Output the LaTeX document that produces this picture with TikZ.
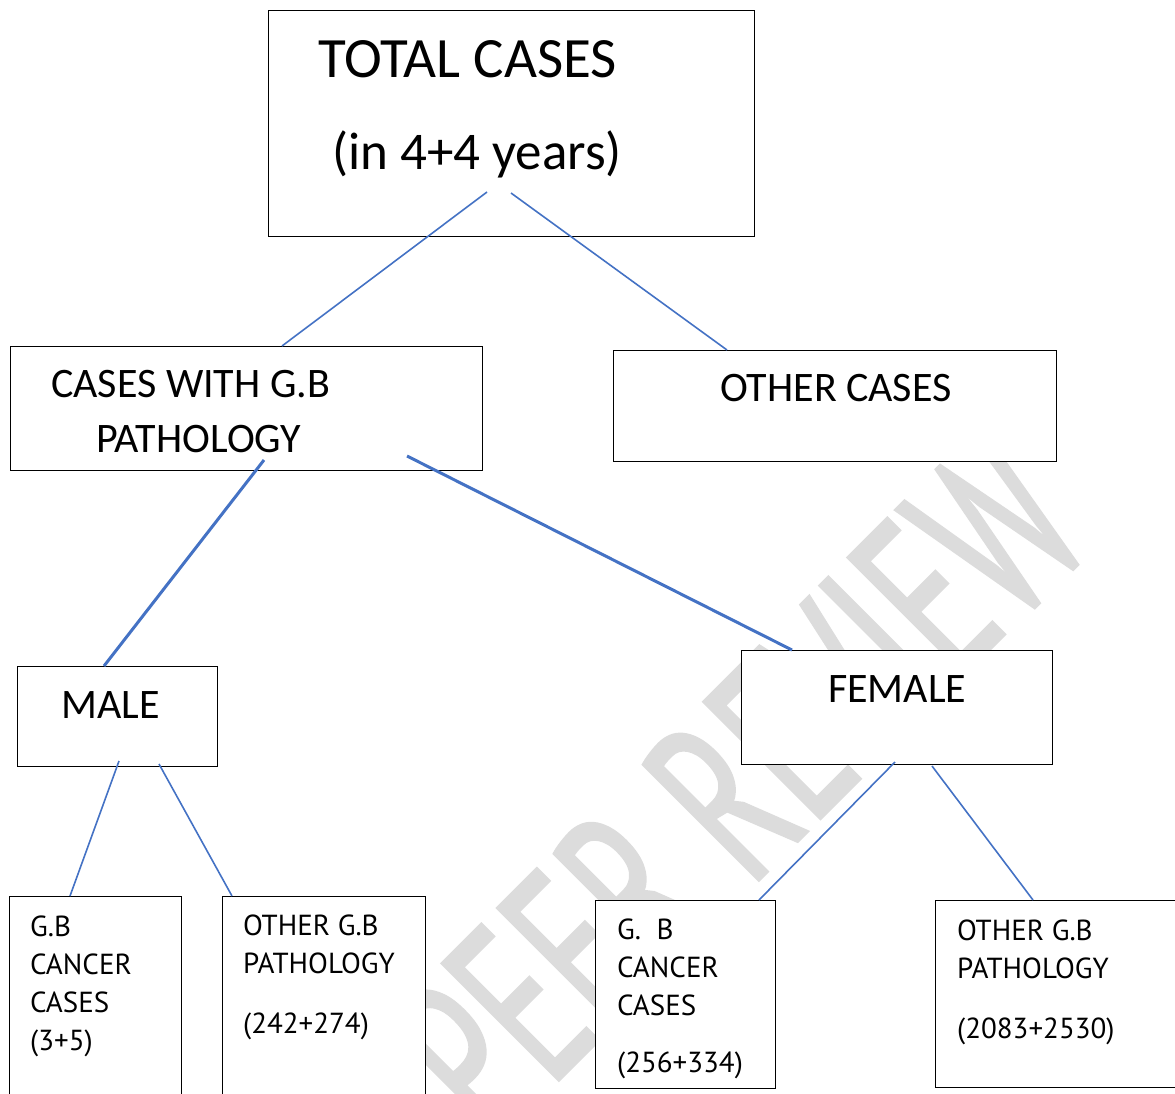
\documentclass[tikz,border=0pt]{standalone}
\usepackage{fontspec}
\setmainfont{Carlito}
\newfontfamily\dinfont{PT Sans}
\newfontfamily\markfont[FakeStretch=0.62,FakeBold=1.2]{PT Sans}
\usetikzlibrary{positioning,calc}
\definecolor{linkBlue}{HTML}{4472C4}
\definecolor{markGray}{HTML}{DCDCDC}
\tikzset{%
  caseBox/.style={%
    rectangle,
    draw=black,
    fill=white,
    line width=1pt,
    inner sep=0pt,
    anchor=north west
  },
  bigText/.style={%
    anchor=base west,
    inner sep=0pt,
    font=\fontsize{57}{60}\selectfont
  },
  midText/.style={%
    anchor=base west,
    inner sep=0pt,
    align=left,
    font=\fontsize{42}{55}\selectfont
  },
  smallText/.style={%
    anchor=base west,
    inner sep=0pt,
    align=left,
    font=\dinfont\fontsize{29}{38}\selectfont
  },
  linkLine/.style={%
    draw=linkBlue,
    line width=1.6pt
  },
  boldLink/.style={%
    draw=linkBlue,
    line width=3pt
  },
  markText/.style={%
    text=markGray,
    inner sep=0pt,
    anchor=base west,
    font=\markfont\fontsize{236}{236}\selectfont
  }
}

\begin{document}
\begin{tikzpicture}[x=1pt,y=-1pt]
  \useasboundingbox (0,0) rectangle (1175,1093);
  \clip (0,0) rectangle (1175,1093);

  % watermark
  \node[markText, rotate=45] (peerMark) at (492,1147) {PEER REVIEW};

  % boxes
  \node[caseBox, minimum width=486pt, minimum height=226pt] (total) at (268,10) {};
  \node[caseBox, minimum width=472pt, minimum height=124pt] (gbCases) at (10,346) {};
  \node[caseBox, minimum width=443pt, minimum height=111pt] (otherCases) at (613,350) {};
  \node[caseBox, minimum width=200pt, minimum height=100pt] (male) at (17,666) {};
  \node[caseBox, minimum width=311pt, minimum height=114pt] (female) at (741,650) {};
  \node[caseBox, minimum width=172pt, minimum height=220pt] (maleCancer) at (9,896) {};
  \node[caseBox, minimum width=203pt, minimum height=220pt] (maleOther) at (222,896) {};
  \node[caseBox, minimum width=180pt, minimum height=188pt] (femaleCancer) at (595,900) {};
  \node[caseBox, minimum width=260pt, minimum height=187pt] (femaleOther) at (935,900) {};

  % texts (anchored at the last baseline)
  \node[bigText] (totalTxt) at ($(total.north west)+(50,67)$) {TOTAL CASES};
  \node[bigText, font=\fontsize{53}{60}\selectfont] (yearsTxt) at ($(total.north west)+(64,159)$) {(in 4+4 years)};
  \node[midText] (gbTxt) at ($(gbCases.north west)+(41,106)$) {CASES WITH G.B\\\hspace*{45pt}PATHOLOGY};
  \node[midText] (otherTxt) at ($(otherCases.north west)+(107,51)$) {OTHER CASES};
  \node[midText] (maleTxt) at ($(male.north west)+(44,52)$) {MALE};
  \node[midText] (femaleTxt) at ($(female.north west)+(87,52)$) {FEMALE};
  \node[smallText] (mcTxt) at ($(maleCancer.north west)+(21,154)$) {G.B\\CANCER\\CASES\\(3+5)};
  \node[smallText] (moTxt) at ($(maleOther.north west)+(21,137)$) {OTHER G.B\\PATHOLOGY\\[22pt](242+274)};
  \node[smallText] (fcTxt) at ($(femaleCancer.north west)+(22,172)$) {G.~~B\\CANCER\\CASES\\[19pt](256+334)};
  \node[smallText] (foTxt) at ($(femaleOther.north west)+(22,138)$) {OTHER G.B\\PATHOLOGY\\[22pt](2083+2530)};

  % connector ends
  \coordinate (totalL) at ($(total.north west)+(219,182)$);
  \coordinate (totalR) at ($(total.north west)+(243,183)$);
  \coordinate (gbTop) at ($(gbCases.north west)+(272,0)$);
  \coordinate (otherTop) at ($(otherCases.north west)+(114,0)$);
  \coordinate (gbL) at ($(gbCases.north west)+(254,114)$);
  \coordinate (gbR) at ($(gbCases.north west)+(397,110)$);
  \coordinate (maleTop) at ($(male.north west)+(87,0)$);
  \coordinate (femaleTop) at ($(female.north west)+(51,0)$);
  \coordinate (maleL) at ($(male.north west)+(102,95)$);
  \coordinate (maleR) at ($(male.north west)+(142,98)$);
  \coordinate (femaleL) at ($(female.north west)+(154,112)$);
  \coordinate (femaleR) at ($(female.north west)+(191,116)$);
  \coordinate (mcTop) at ($(maleCancer.north west)+(61,0)$);
  \coordinate (moTop) at ($(maleOther.north west)+(10,0)$);
  \coordinate (fcTop) at ($(femaleCancer.north west)+(164,0)$);
  \coordinate (foTop) at ($(femaleOther.north west)+(98,0)$);

  % connectors
  \draw[linkLine] (totalL) -- (gbTop);
  \draw[linkLine] (totalR) -- (otherTop);
  \draw[boldLink] (gbL) -- (maleTop);
  \draw[boldLink] (gbR) -- (femaleTop);
  \draw[linkLine] (maleL) -- (mcTop);
  \draw[linkLine] (maleR) -- (moTop);
  \draw[linkLine] (femaleL) -- (fcTop);
  \draw[linkLine] (femaleR) -- (foTop);
\end{tikzpicture}
\end{document}
